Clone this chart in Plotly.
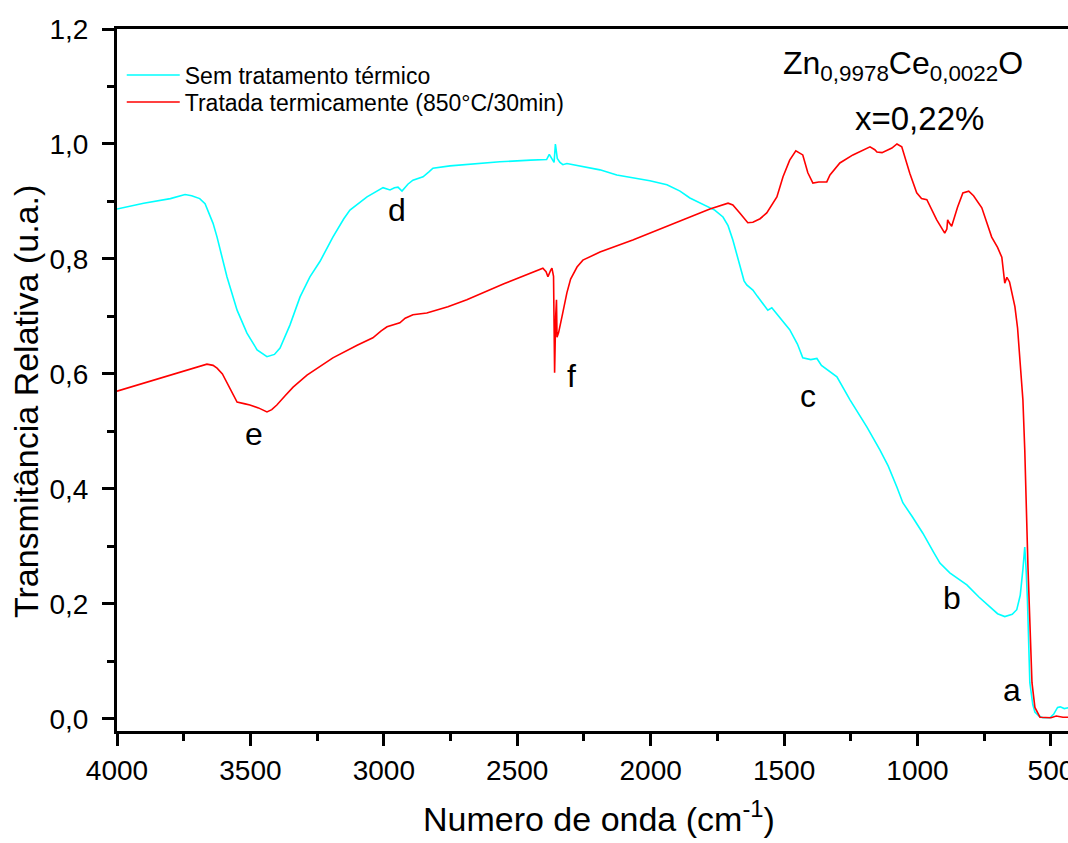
import plotly.graph_objects as go

# --- data ---
cyan_x = [4000, 3900, 3800, 3745, 3720, 3690, 3670, 3640, 3625, 3588, 3550, 3513, 3475, 3438, 3410, 3389,
          3352, 3314, 3277, 3239, 3191, 3150, 3127, 3063, 3003, 2977, 2960, 2947, 2932, 2910, 2891, 2853,
          2830, 2816, 2752, 2650, 2565, 2450, 2390, 2380, 2370, 2362, 2357, 2350, 2340, 2329, 2314, 2250,
          2190, 2127, 2060, 2003, 1939, 1890, 1853, 1789, 1760, 1729, 1710, 1692, 1675, 1666, 1650, 1640,
          1617, 1600, 1591, 1561, 1546, 1520, 1479, 1450, 1430, 1400, 1377, 1360, 1330, 1302, 1253, 1190,
          1141, 1110, 1077, 1055, 1020, 980, 940, 916, 879, 860, 815, 770, 729, 700, 673, 645, 628, 615,
          605, 598, 593, 588, 579, 568, 560, 545, 530, 504, 490, 475, 465, 450, 440, 420]
cyan_y = [0.887, 0.897, 0.905, 0.912, 0.910, 0.905, 0.896, 0.862, 0.838, 0.769, 0.711, 0.671, 0.642, 0.630, 0.634, 0.645,
          0.685, 0.734, 0.769, 0.796, 0.838, 0.870, 0.885, 0.908, 0.924, 0.920, 0.924, 0.925, 0.918, 0.930, 0.937, 0.943,
          0.952, 0.958, 0.962, 0.966, 0.969, 0.972, 0.973, 0.982, 0.975, 0.968, 1.000, 0.975, 0.968, 0.964, 0.966, 0.960,
          0.955, 0.946, 0.941, 0.936, 0.929, 0.918, 0.906, 0.891, 0.885, 0.873, 0.858, 0.833, 0.805, 0.786, 0.762, 0.755,
          0.746, 0.735, 0.729, 0.711, 0.715, 0.700, 0.677, 0.652, 0.628, 0.625, 0.627, 0.615, 0.605, 0.595, 0.555, 0.508,
          0.468, 0.440, 0.403, 0.376, 0.352, 0.323, 0.290, 0.271, 0.254, 0.248, 0.233, 0.212, 0.195, 0.183, 0.178, 0.182, 0.190, 0.215,
          0.260, 0.299, 0.260, 0.207, 0.063, 0.025, 0.012, 0.005, 0.002, 0.002, 0.008, 0.020, 0.021, 0.018, 0.019, 0.020]

red_x = [4000, 3900, 3800, 3738, 3700, 3663, 3640, 3625, 3605, 3588, 3570, 3550, 3520, 3502, 3470, 3438, 3420, 3401,
         3370, 3340, 3288, 3191, 3100, 3041, 3010, 2988, 2940, 2920, 2891, 2839, 2760, 2689, 2550, 2404, 2392, 2385,
         2375, 2370, 2364, 2360, 2356, 2353, 2351, 2345, 2330, 2314, 2300, 2276, 2254, 2190, 2067, 1950, 1879, 1778,
         1710, 1692, 1666, 1636, 1617, 1590, 1565, 1527, 1504, 1479, 1456, 1430, 1411, 1392, 1370, 1340, 1328, 1317,
         1291, 1242, 1178, 1160, 1152, 1133, 1096, 1077, 1059, 1029, 1003, 985, 965, 928, 898, 890, 887, 880, 872,
         850, 830, 808, 790, 759, 722, 700, 684, 673, 665, 655, 635, 625, 617, 605, 598, 586, 571, 560, 541, 520,
         500, 480, 455, 420]
red_y = [0.570, 0.584, 0.598, 0.607, 0.612, 0.617, 0.615, 0.610, 0.600, 0.584, 0.568, 0.551, 0.548, 0.546, 0.541, 0.534, 0.538, 0.546,
         0.562, 0.577, 0.598, 0.628, 0.650, 0.663, 0.675, 0.682, 0.689, 0.697, 0.703, 0.706, 0.717, 0.729, 0.757, 0.784, 0.778, 0.769,
         0.780, 0.784, 0.770, 0.602, 0.700, 0.729, 0.664, 0.672, 0.705, 0.741, 0.765, 0.786, 0.798, 0.812, 0.833, 0.855, 0.868, 0.887,
         0.897, 0.894, 0.880, 0.863, 0.864, 0.870, 0.880, 0.908, 0.943, 0.972, 0.988, 0.981, 0.950, 0.932, 0.934, 0.934, 0.946, 0.952,
         0.967, 0.981, 0.995, 0.990, 0.986, 0.985, 0.993, 1.000, 0.995, 0.949, 0.915, 0.905, 0.903, 0.868, 0.845, 0.852, 0.868, 0.862, 0.857,
         0.890, 0.915, 0.918, 0.910, 0.889, 0.838, 0.820, 0.803, 0.758, 0.768, 0.760, 0.717, 0.680, 0.630, 0.555, 0.468, 0.264, 0.063, 0.020, 0.003, 0.002,
         0.002, 0.005, 0.003, 0.003]

series_names = ["Sem tratamento térmico", "Tratada termicamente (850°C/30min)"]

x_ticks = [4000, 3500, 3000, 2500, 2000, 1500, 1000, 500]
y_ticks = [0.0, 0.2, 0.4, 0.6, 0.8, 1.0, 1.2]
y_tick_text = ["0,0", "0,2", "0,4", "0,6", "0,8", "1,0", "1,2"]

band_labels = ["a", "b", "c", "d", "e", "f"]
band_x = [646, 871, 1411, 2951, 3487, 2295]
band_y = [0.050, 0.211, 0.562, 0.886, 0.495, 0.596]

FONT = "Liberation Sans, Arial, sans-serif"

fig = go.Figure()
fig.add_trace(go.Scatter(x=cyan_x, y=cyan_y, mode="lines", name=series_names[0],
                         line=dict(color="#00FFFF", width=1.6), legend="legend"))
fig.add_trace(go.Scatter(x=red_x, y=red_y, mode="lines", name=series_names[1],
                         line=dict(color="#FF0000", width=1.6), legend="legend2"))

for lab, bx, by in zip(band_labels, band_x, band_y):
    fig.add_annotation(x=bx, y=by, xref="x", yref="y", text=lab, showarrow=False,
                       xanchor="center", yanchor="middle",
                       font=dict(family=FONT, size=32, color="black"))

fig.add_annotation(x=1055, y=1.136, xref="x", yref="y",
                   text="Zn<sub>0,9978</sub>Ce<sub>0,0022</sub>O", showarrow=False,
                   xanchor="center", yanchor="middle",
                   font=dict(family=FONT, size=32, color="black"))
fig.add_annotation(x=991, y=1.045, xref="x", yref="y", text="x=0,22%", showarrow=False,
                   xanchor="center", yanchor="middle",
                   font=dict(family=FONT, size=33, color="black"))

# axis titles
fig.add_annotation(x=0.507, y=-0.1225, xref="paper", yref="paper",
                   text="Numero de onda (cm<sup>-1</sup>)", showarrow=False,
                   xanchor="center", yanchor="middle",
                   font=dict(family=FONT, size=34, color="black"))
fig.add_annotation(x=-0.0957, y=0.470, xref="paper", yref="paper",
                   text="Transmitância Relativa (u.a.)", textangle=-90, showarrow=False,
                   xanchor="center", yanchor="middle",
                   font=dict(family=FONT, size=34, color="black"))

legend_common = dict(xanchor="left", yanchor="middle",
                     font=dict(family=FONT, size=23, color="black"),
                     bgcolor="rgba(0,0,0,0)", itemwidth=53)

fig.update_layout(
    width=1068, height=843,
    margin=dict(l=117, r=0, t=29, b=112, autoexpand=False),
    paper_bgcolor="white", plot_bgcolor="white",
    font=dict(family=FONT, color="black"),
    showlegend=True,
    legend=dict(x=0.005, y=(731 - 75) / 702, **legend_common),
    legend2=dict(x=0.005, y=(731 - 102) / 702, **legend_common),
    xaxis=dict(range=[4000, 436], tickvals=x_ticks, ticktext=[str(v) for v in x_ticks],
               showgrid=False, zeroline=False, showline=True, linecolor="black", linewidth=3,
               mirror=True, ticks="outside", ticklen=12, tickwidth=3, tickcolor="black",
               ticklabeloverflow="allow", automargin=False,
               tickfont=dict(family=FONT, size=28, color="black"),
               minor=dict(ticks="outside", ticklen=7, tickwidth=3, tickcolor="black",
                          dtick=250, tick0=0, showgrid=False)),
    yaxis=dict(range=[-0.021, 1.2], tickvals=y_ticks, ticktext=y_tick_text,
               showgrid=False, zeroline=False, showline=True, linecolor="black", linewidth=3,
               mirror=False, ticks="outside", ticklen=12, tickwidth=3, tickcolor="black",
               ticklabelstandoff=8, automargin=False,
               tickfont=dict(family=FONT, size=28, color="black"),
               minor=dict(ticks="outside", ticklen=7, tickwidth=3, tickcolor="black",
                          dtick=0.1, tick0=0, showgrid=False)),
)

fig.write_html("out.html")
